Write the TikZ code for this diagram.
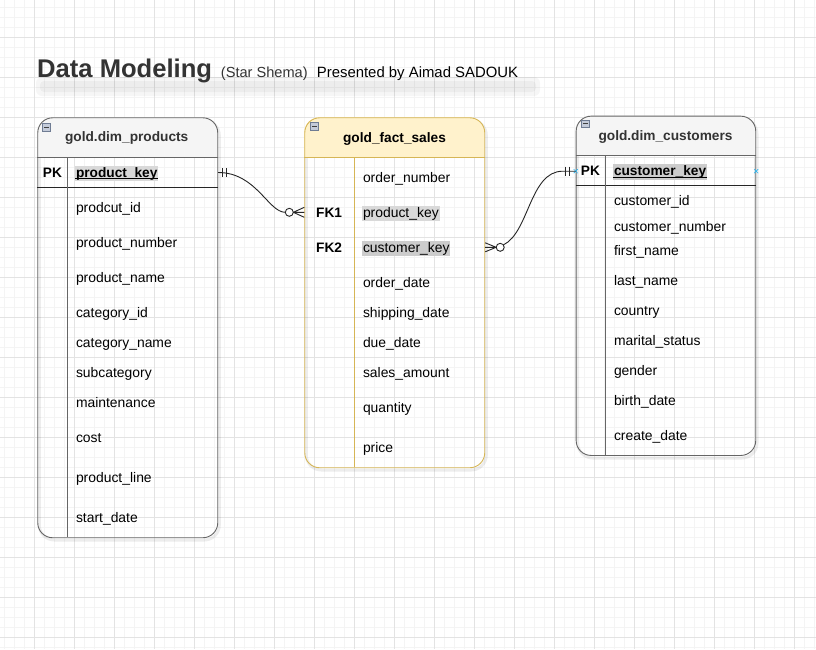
\documentclass[tikz,border=0pt]{standalone}
\usepackage{fontspec}
\setmainfont{Liberation Sans}
\usetikzlibrary{calc}
\definecolor{dimstroke}{HTML}{666666}
\definecolor{dimfill}{HTML}{F5F5F5}
\definecolor{factstroke}{HTML}{D6B656}
\definecolor{factfill}{HTML}{FFF2CC}
\definecolor{txtdark}{HTML}{333333}
\definecolor{hlA}{HTML}{D9D9D9}
\definecolor{hlB}{HTML}{CCCCCC}
\definecolor{selblue}{HTML}{29B6F2}
\definecolor{iconfill}{HTML}{C4CBD9}
\definecolor{iconstroke}{HTML}{6F7C93}
\definecolor{gridminor}{HTML}{F4F4F4}
\definecolor{gridmajor}{HTML}{E3E3E3}
\newcommand\fieldfont{\fontsize{13.9}{16}\selectfont}
\newcommand\labelfont{\fontsize{13.7}{16}\selectfont}
\newcommand\ericon[2]{%
  \draw[iconstroke, fill=iconfill, line width=0.6pt] (#1,#2) rectangle ++(8,7.5);
  \draw[black!75, line width=0.9pt] (#1+1.7,#2+3.75) -- ++(4.6,0);}
\begin{document}
\begin{tikzpicture}[x=1pt,y=-1pt,
  tbl/.style={draw=#1, line width=0.9pt, rounded corners=15pt, minimum width=180pt,
              anchor=north west, inner sep=0pt},
  fld/.style={anchor=base west, inner xsep=0.8pt, inner ysep=1.5pt, text height=10pt,
              text depth=2.5pt, font=\fieldfont, text=black},
  keyfld/.style={fld, font=\labelfont\bfseries},
  lbl/.style={anchor=base west, inner sep=0pt, font=\labelfont\bfseries, text=black},
  hdr/.style={anchor=base, font=\fontsize{13.7}{16}\selectfont\bfseries, text=#1, inner sep=0pt},
  conn/.style={draw=black!85, line width=0.9pt},
  ermark/.style={draw=black!85, line width=0.9pt},
  shade/.style={draw=black, opacity=0.07, line width=3pt, rounded corners=15pt}
]
\useasboundingbox (0,0) rectangle (816,649);
\fill[white] (0,0) rectangle (816,649);
% grid
\foreach \x in {4.7,14.7,...,815} \draw[gridminor, line width=0.6pt] (\x,0) -- (\x,649);
\foreach \y in {7.3,17.3,...,649} \draw[gridminor, line width=0.6pt] (0,\y) -- (816,\y);
\foreach \x in {34.7,74.7,...,815} \draw[gridmajor, line width=0.8pt] (\x,0) -- (\x,649);
\foreach \y in {37.3,77.3,...,649} \draw[gridmajor, line width=0.8pt] (0,\y) -- (816,\y);

% title
\fill[black, opacity=0.035, rounded corners=6pt] (36,77) rectangle (540,96);
\fill[black, opacity=0.035, rounded corners=4pt] (40,81) rectangle (536,92);
\node[anchor=base west, inner sep=0pt, font=\fontsize{25.6}{30}\selectfont\bfseries, text=txtdark]
  (title) at (37,77) {Data Modeling};
\node[anchor=base west, inner sep=0pt, font=\fontsize{14.6}{17}\selectfont, text=txtdark]
  (subtitle) at (220.7,77) {(Star Shema)};
\node[anchor=base west, inner sep=0pt, font=\fontsize{14.9}{17}\selectfont, text=black]
  (author) at (316.7,77) {Presented by Aimad SADOUK};

% ---------- gold.dim_products ----------
\draw[shade] (39.3,120.3) rectangle (219.3,540);
\begin{scope}
  \clip (30,100) rectangle (230,157.3);
  \fill[dimfill, rounded corners=15pt] (37.3,117.3) rectangle (217.3,537.3);
\end{scope}
\node[tbl=dimstroke, minimum height=420pt] (prod) at (37.3,117.3) {};
\draw[dimstroke, line width=0.9pt] (prod.west |- 0,157.3) -- (prod.east |- 0,157.3);
\draw[black!85, line width=0.9pt] (prod.west |- 0,187.3) -- (prod.east |- 0,187.3);
\draw[dimstroke, line width=0.9pt] (67.3,157.3) -- (67.3,537.3);
\ericon{42.7}{123.3}
\node[hdr=txtdark] (prodh) at (126.7,141.7) {gold.dim\_products};
\node[lbl] (prodpkl) at (42.7,177) {PK};
\node[keyfld, fill=hlA] (prodpk) at (75,177) {product\_key};
\draw[black, line width=1.2pt] ([yshift=-1.6pt]prodpk.base west) -- ([yshift=-1.6pt]prodpk.base east);
\coordinate (prodpkrow) at (127,172.5);
\foreach \t/\y [count=\i] in {prodcut\_id/207, product\_number/242, product\_name/277,
  category\_id/312, category\_name/342, subcategory/372, maintenance/402, cost/437,
  product\_line/477, start\_date/517}
  \node[fld] (pf\i) at (75,\y+5) {\t};

% ---------- gold_fact_sales ----------
\draw[shade] (306.3,120.3) rectangle (486.3,470);
\begin{scope}
  \clip (290,100) rectangle (500,157.3);
  \fill[factfill, rounded corners=15pt] (304.3,117.3) rectangle (484.3,467.3);
\end{scope}
\node[tbl=factstroke, minimum height=350pt] (fact) at (304.3,117.3) {};
\draw[factstroke, line width=0.9pt] (fact.west |- 0,157.3) -- (fact.east |- 0,157.3);
\draw[factstroke, line width=0.9pt] (354.3,157.3) -- (354.3,467.3);
\ericon{310.3}{122.7}
\node[hdr=black] (facth) at (394.5,142.2) {gold\_fact\_sales};
\node[lbl] (fk1l) at (316,217) {FK1};
\node[lbl] (fk2l) at (316,252) {FK2};
\node[fld, fill=hlA] (fk1) at (362,217) {product\_key};
\node[fld, fill=hlB] (fk2) at (362,252) {customer\_key};
\coordinate (fk1row) at (394,212.3);
\coordinate (fk2row) at (394,247.3);
\foreach \t/\y [count=\i] in {order\_number/177, order\_date/282, shipping\_date/312,
  due\_date/342, sales\_amount/372, quantity/407, price/447}
  \node[fld] (ff\i) at (362,\y+5) {\t};

% ---------- gold.dim_customers ----------
\draw[shade] (577.7,118.7) rectangle (757,458);
\begin{scope}
  \clip (560,100) rectangle (770,155);
  \fill[dimfill, rounded corners=15pt] (575.7,115.7) rectangle (755.3,455);
\end{scope}
\node[tbl=dimstroke, minimum height=339.3pt, minimum width=179.6pt] (cust) at (575.7,115.7) {};
\draw[dimstroke, line width=0.9pt] (cust.west |- 0,155) -- (cust.east |- 0,155);
\draw[black!85, line width=0.9pt] (cust.west |- 0,185.7) -- (cust.east |- 0,185.7);
\draw[dimstroke, line width=0.9pt] (605.3,155) -- (605.3,455);
\ericon{581.5}{120}
\node[hdr=txtdark] (custh) at (665.5,140) {gold.dim\_customers};
\node[lbl] (custpkl) at (580.7,175.5) {PK};
\node[keyfld, fill=hlB] (custpk) at (613,175.5) {customer\_key};
\draw[black, line width=1.2pt] ([yshift=-1.6pt]custpk.base west) -- ([yshift=-1.6pt]custpk.base east);
\coordinate (custpkrow) at (665,171.2);
\foreach \t/\y [count=\i] in {customer\_id/200, customer\_number/226, first\_name/250,
  last\_name/280, country/310, marital\_status/340, gender/370, birth\_date/400, create\_date/435}
  \node[fld] (cf\i) at (613,\y+5) {\t};

% selection markers
\foreach \c in {cust.west, cust.east}
  \draw[selblue, line width=0.7pt] ([shift={(-2pt,-2pt)}]\c |- custpkrow) -- ([shift={(2pt,2pt)}]\c |- custpkrow)
    ([shift={(-2pt,2pt)}]\c |- custpkrow) -- ([shift={(2pt,-2pt)}]\c |- custpkrow);

% ---------- connector 1: products (one) -> fact (zero or many) ----------
\coordinate (S) at (prod.east |- prodpkrow);
\coordinate (F) at (fact.west |- fk1row);
\draw[conn] (S) .. controls ([xshift=38pt]S) and ([xshift=-36pt]F) .. ([xshift=-19pt]F);
\draw[ermark] ([shift={(4.5pt,4.5pt)}]S) -- ([shift={(4.5pt,-4.5pt)}]S)
            ([shift={(8pt,4.5pt)}]S) -- ([shift={(8pt,-4.5pt)}]S);
\draw[ermark, fill=white] ([xshift=-15pt]F) circle (4pt);
\draw[ermark] ([xshift=-11pt]F) -- ([yshift=5pt]F)
            ([xshift=-11pt]F) -- (F)
            ([xshift=-11pt]F) -- ([yshift=-5pt]F);

% ---------- connector 2: fact (zero or many) -> customers (one) ----------
\coordinate (G) at (fact.east |- fk2row);
\coordinate (H) at (cust.west |- custpkrow);
\draw[ermark] ([yshift=4.5pt]G) -- ([xshift=11pt]G)
            (G) -- ([xshift=11pt]G)
            ([yshift=-4.5pt]G) -- ([xshift=11pt]G);
\draw[ermark, fill=white] ([xshift=15pt]G) circle (4pt);
\draw[conn] ([shift={(18.2pt,2.4pt)}]G) .. controls ([shift={(44pt,15pt)}]G) and ([xshift=-46pt]H) .. ([xshift=-13pt]H) -- (H);
\draw[ermark] ([shift={(-10.5pt,4.5pt)}]H) -- ([shift={(-10.5pt,-4.5pt)}]H)
            ([shift={(-6.5pt,4.5pt)}]H) -- ([shift={(-6.5pt,-4.5pt)}]H);
\end{tikzpicture}
\end{document}
